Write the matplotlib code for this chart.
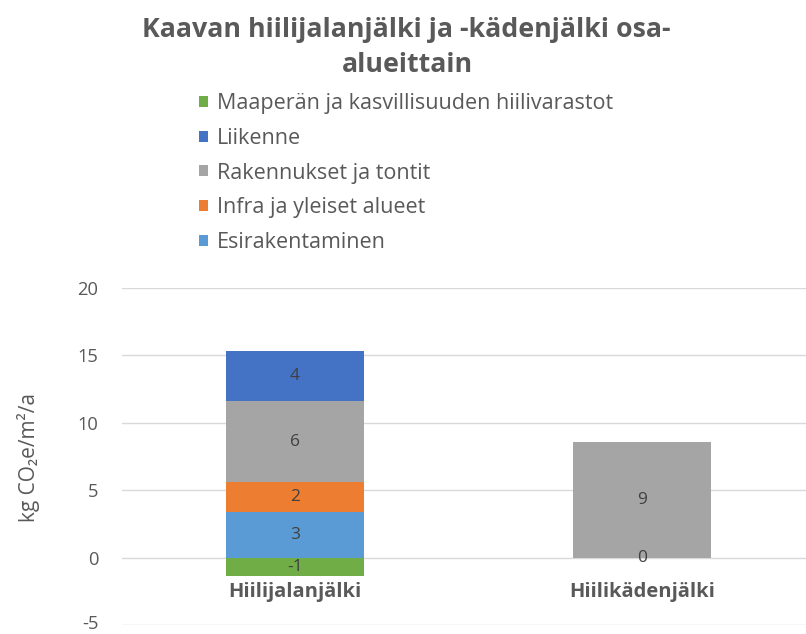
import matplotlib
matplotlib.use("Agg")
import matplotlib.pyplot as plt
import matplotlib.transforms as mtransforms
import numpy as np

plt.rcParams['font.family'] = ['Open Sans', 'DejaVu Sans']

categories = ["Hiilijalanjälki", "Hiilikädenjälki"]
series = ["Esirakentaminen", "Infra ja yleiset alueet", "Rakennukset ja tontit",
          "Liikenne", "Maaperän ja kasvillisuuden hiilivarastot"]
esirakentaminen = [3.4, np.nan]
infra = [2.2, np.nan]
rakennukset = [6.0, 8.6]
liikenne = [3.7, np.nan]
maapera = [-1.4, 0.0]
colors = ["#5b9bd5", "#ed7d31", "#a5a5a5", "#4472c4", "#70ad47"]
yticks = [-5, 0, 5, 10, 15, 20]

txt = "#595959"
fig = plt.figure(figsize=(8.06, 6.34), dpi=100)
ax = fig.add_axes([122/806, 9/634, 684/806, 337/634])

x = np.arange(len(categories))
values = [esirakentaminen, infra, rakennukset, liikenne, maapera]
pos_bottom = np.zeros(len(categories))
neg_bottom = np.zeros(len(categories))
bars = []
for name, vals, col in zip(series, values, colors):
    v = np.array(vals, dtype=float)
    vz = np.nan_to_num(v)
    # zero and negative values stack downward from the axis
    bottom = np.where(vz > 0, pos_bottom, neg_bottom)
    b = ax.bar(x, vz, 0.395, bottom=bottom, color=col, label=name, zorder=3)
    bars.append(b)
    for i in range(len(categories)):
        if np.isnan(v[i]):
            continue
        ax.text(x[i], bottom[i] + vz[i] / 2, "{:.0f}".format(v[i]), ha='center',
                va='center', fontsize=12.5, color="#404040", zorder=4)
    pos_bottom = pos_bottom + np.where(vz > 0, vz, 0)
    neg_bottom = neg_bottom + np.where(vz < 0, vz, 0)

ax.set_ylim(-5, 20)
ax.set_xlim(-0.4986, 1.4726)
ax.set_yticks(yticks)
ax.set_yticklabels([str(t) for t in yticks], fontsize=13.2, color=txt)
ax.tick_params(axis='y', length=0, pad=17)
ax.set_xticks([])
ax.grid(axis='y', color="#d9d9d9", linewidth=1, zorder=0)
for s in ax.spines.values():
    s.set_visible(False)

# lowest tick label sits on the figure edge, nudge it up a little
lab = ax.get_yticklabels()[0]
lab.set_transform(lab.get_transform() + mtransforms.ScaledTranslation(0, 2/72, fig.dpi_scale_trans))

for i, c in enumerate(categories):
    ax.annotate(c, (x[i], 0), xytext=(0, -24.5), textcoords='offset points',
                ha='center', va='center', fontsize=14.5, fontweight='bold', color=txt)

fig.text(28/806, 1 - 457/634, "kg CO₂e/m²/a", rotation=90, ha='center', va='center',
         fontsize=15, color=txt)

fig.text(406/806, 1 - 30/634, "Kaavan hiilijalanjälki ja -kädenjälki osa-",
         ha='center', va='center', fontsize=19.3, fontweight='bold', color=txt)
fig.text(407/806, 1 - 65/634, "alueittain",
         ha='center', va='center', fontsize=19.3, fontweight='bold', color=txt)

handles = bars[::-1]
labels = series[::-1]
fig.legend(handles, labels, loc='upper left', bbox_to_anchor=(199/806, 1 - 93/634),
           frameon=False, fontsize=15.5, labelcolor=txt, handlelength=0.42,
           handleheight=0.42, handletextpad=0.42, labelspacing=0.64, borderpad=0,
           borderaxespad=0)

fig.savefig("out.png", dpi=100)
